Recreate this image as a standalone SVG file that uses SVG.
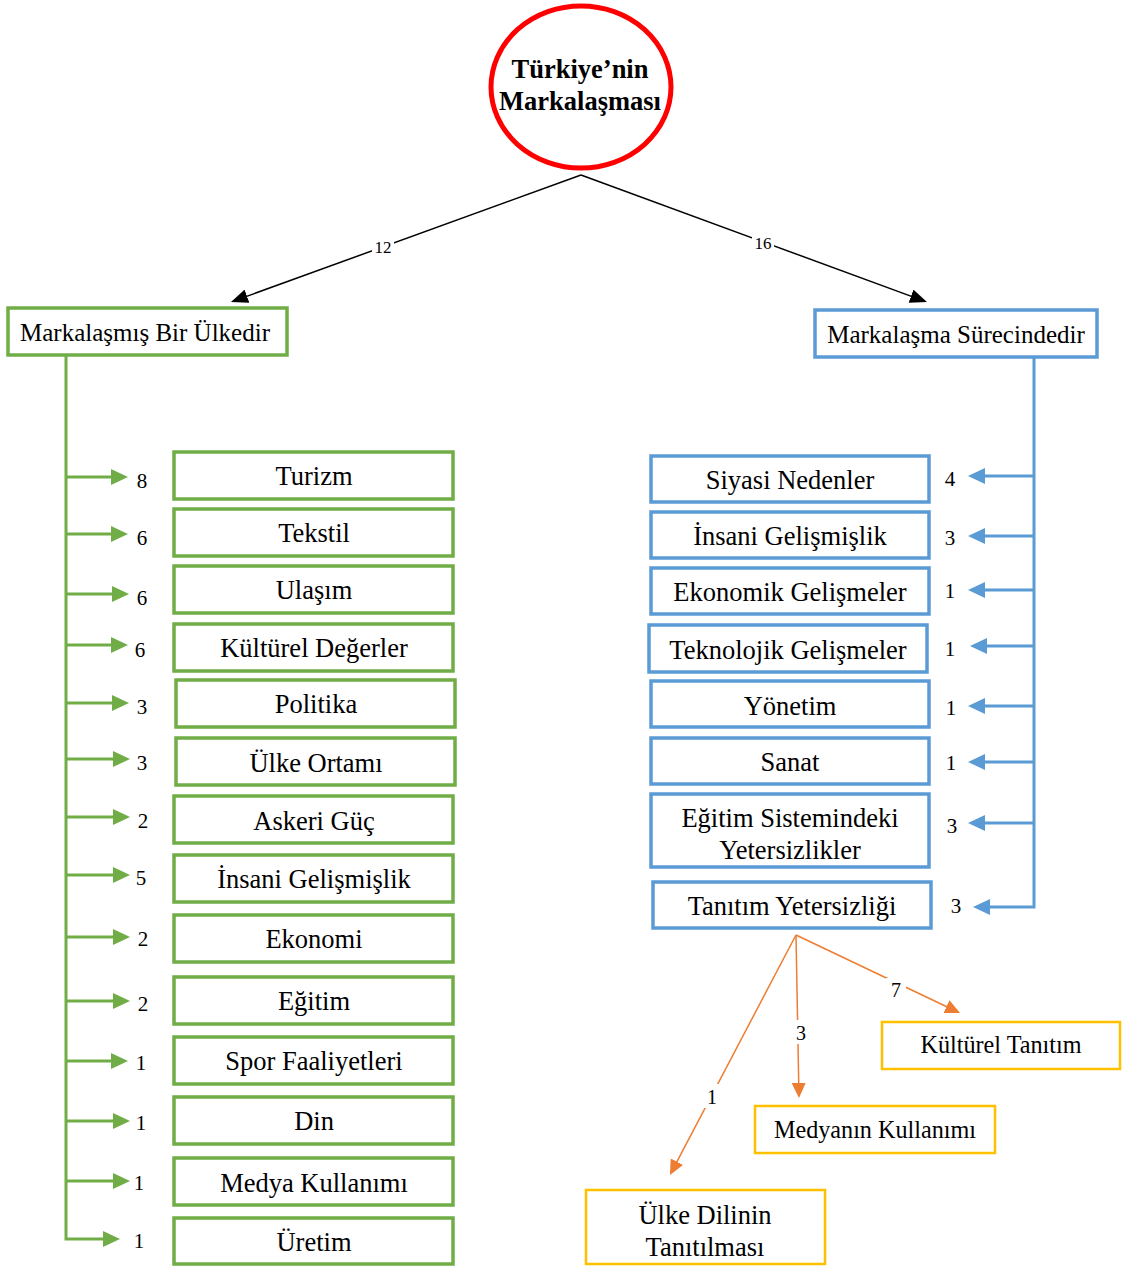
<svg xmlns="http://www.w3.org/2000/svg" width="1122" height="1266" viewBox="0 0 1122 1266">
<style>
text{font-family:"Liberation Serif","Times New Roman",serif;fill:#000}
.t{font-size:26.5px;text-anchor:middle}
.p{font-size:25px;text-anchor:middle}
.to{font-size:24.2px;text-anchor:middle}
.n{font-size:21px;text-anchor:middle}
.m{font-size:20px;text-anchor:middle}
.e{font-size:17px;text-anchor:middle}
.g{fill:#fff;stroke:#70AD47;stroke-width:3.5}
.b{fill:#fff;stroke:#5B9BD5;stroke-width:3.5}
.o{fill:#fff;stroke:#FFC000;stroke-width:2.5}
.cg{fill:none;stroke:#70AD47;stroke-width:3}
.cb{fill:none;stroke:#5B9BD5;stroke-width:3}
.ck{fill:none;stroke:#000;stroke-width:1.5}
.co{fill:none;stroke:#ED7D31;stroke-width:1.5}
</style>
<defs>
<marker id="ag" markerUnits="userSpaceOnUse" markerWidth="17" markerHeight="16" refX="7" refY="8" orient="auto"><path d="M0,0 L17,8 L0,16 z" fill="#70AD47"/></marker>
<marker id="ab" markerUnits="userSpaceOnUse" markerWidth="17" markerHeight="16" refX="7" refY="8" orient="auto"><path d="M0,0 L17,8 L0,16 z" fill="#5B9BD5"/></marker>
<marker id="ak" markerUnits="userSpaceOnUse" markerWidth="17" markerHeight="14" refX="7" refY="7" orient="auto"><path d="M0,0 L17,7 L0,14 z" fill="#000"/></marker>
<marker id="ao" markerUnits="userSpaceOnUse" markerWidth="15" markerHeight="14" refX="5" refY="7" orient="auto"><path d="M0,0 L15,7 L0,14 z" fill="#ED7D31"/></marker>
</defs>
<rect width="1122" height="1266" fill="#fff"/>

<g id="connectors">
<path class="ck" d="M581,175 L240.4,298.6" marker-end="url(#ak)"/>
<path class="ck" d="M581,175 L917.6,298.6" marker-end="url(#ak)"/>
<rect x="372" y="238" width="22" height="18" fill="#fff"/>
<text class="e" x="383" y="253">12</text>
<rect x="752" y="234" width="22" height="18" fill="#fff"/>
<text class="e" x="763" y="249">16</text>

<path class="cg" d="M66,355 V1239 H110" marker-end="url(#ag)"/>
<path class="cg" d="M66,477 H118" marker-end="url(#ag)"/>
<path class="cg" d="M66,534 H118" marker-end="url(#ag)"/>
<path class="cg" d="M66,594 H119" marker-end="url(#ag)"/>
<path class="cg" d="M66,645 H118" marker-end="url(#ag)"/>
<path class="cg" d="M66,703 H119" marker-end="url(#ag)"/>
<path class="cg" d="M66,759 H120" marker-end="url(#ag)"/>
<path class="cg" d="M66,817 H120" marker-end="url(#ag)"/>
<path class="cg" d="M66,875 H120" marker-end="url(#ag)"/>
<path class="cg" d="M66,937 H120" marker-end="url(#ag)"/>
<path class="cg" d="M66,1001 H120" marker-end="url(#ag)"/>
<path class="cg" d="M66,1061 H118" marker-end="url(#ag)"/>
<path class="cg" d="M66,1121 H120" marker-end="url(#ag)"/>
<path class="cg" d="M66,1181 H120" marker-end="url(#ag)"/>
<text class="n" x="142" y="488">8</text>
<text class="n" x="142" y="545">6</text>
<text class="n" x="142" y="605">6</text>
<text class="n" x="140" y="657">6</text>
<text class="n" x="142" y="714">3</text>
<text class="n" x="142" y="770">3</text>
<text class="n" x="143" y="828">2</text>
<text class="n" x="141" y="885">5</text>
<text class="n" x="143" y="946">2</text>
<text class="n" x="143" y="1011">2</text>
<text class="n" x="141" y="1070">1</text>
<text class="n" x="141" y="1130">1</text>
<text class="n" x="139" y="1190">1</text>
<text class="n" x="139" y="1248">1</text>

<path class="cb" d="M1034,357 V907 H983" marker-end="url(#ab)"/>
<path class="cb" d="M1034,476 H978" marker-end="url(#ab)"/>
<path class="cb" d="M1034,536 H978" marker-end="url(#ab)"/>
<path class="cb" d="M1034,590 H978" marker-end="url(#ab)"/>
<path class="cb" d="M1034,646 H980" marker-end="url(#ab)"/>
<path class="cb" d="M1034,706 H978" marker-end="url(#ab)"/>
<path class="cb" d="M1034,762 H978" marker-end="url(#ab)"/>
<path class="cb" d="M1034,823 H978" marker-end="url(#ab)"/>
<text class="n" x="950" y="486">4</text>
<text class="n" x="950" y="545">3</text>
<text class="n" x="950" y="598">1</text>
<text class="n" x="950" y="656">1</text>
<text class="n" x="951" y="715">1</text>
<text class="n" x="951" y="770">1</text>
<text class="n" x="952" y="833">3</text>
<text class="n" x="956" y="913">3</text>

<path class="co" d="M796,935 L951,1008.7" marker-end="url(#ao)"/>
<path class="co" d="M796,935 L798.8,1088" marker-end="url(#ao)"/>
<path class="co" d="M796,935 L674.6,1166.1" marker-end="url(#ao)"/>
<rect x="886" y="978" width="20" height="22" fill="#fff"/>
<text class="m" x="896" y="997">7</text>
<rect x="792" y="1020" width="18" height="24" fill="#fff"/>
<text class="m" x="801" y="1040">3</text>
<rect x="703" y="1084" width="18" height="24" fill="#fff"/>
<text class="m" x="712" y="1104">1</text>
</g>

<g id="root">
<ellipse cx="581" cy="87" rx="90" ry="81" fill="#fff" stroke="#FF0000" stroke-width="5"/>
<text class="t" x="580" y="78" font-weight="bold">Türkiye’nin</text>
<text class="t" x="580" y="110" font-weight="bold">Markalaşması</text>
</g>

<g id="markalasmis"><rect class="g" x="8" y="308" width="279" height="47"/><text class="p" x="145" y="341">Markalaşmış Bir Ülkedir</text></g>
<g id="surecinde"><rect class="b" x="815" y="310" width="282" height="47"/><text class="p" x="956" y="343">Markalaşma Sürecindedir</text></g>

<g id="turizm"><rect class="g" x="174" y="452" width="279" height="47"/><text class="t" x="314" y="485">Turizm</text></g>
<g id="tekstil"><rect class="g" x="174" y="509" width="279" height="47"/><text class="t" x="314" y="542">Tekstil</text></g>
<g id="ulasim"><rect class="g" x="174" y="566" width="279" height="47"/><text class="t" x="314" y="599">Ulaşım</text></g>
<g id="kulturel-degerler"><rect class="g" x="174" y="624" width="279" height="47"/><text class="t" x="314" y="657">Kültürel Değerler</text></g>
<g id="politika"><rect class="g" x="176" y="680" width="279" height="47"/><text class="t" x="316" y="713">Politika</text></g>
<g id="ulke-ortami"><rect class="g" x="176" y="738" width="279" height="47"/><text class="t" x="316" y="772">Ülke Ortamı</text></g>
<g id="askeri-guc"><rect class="g" x="174" y="796" width="279" height="47"/><text class="t" x="314" y="830">Askeri Güç</text></g>
<g id="insani-l"><rect class="g" x="174" y="855" width="279" height="47"/><text class="t" x="314" y="888">İnsani Gelişmişlik</text></g>
<g id="ekonomi"><rect class="g" x="174" y="915" width="279" height="47"/><text class="t" x="314" y="948">Ekonomi</text></g>
<g id="egitim"><rect class="g" x="174" y="977" width="279" height="47"/><text class="t" x="314" y="1010">Eğitim</text></g>
<g id="spor"><rect class="g" x="174" y="1037" width="279" height="47"/><text class="t" x="314" y="1070">Spor Faaliyetleri</text></g>
<g id="din"><rect class="g" x="174" y="1097" width="279" height="47"/><text class="t" x="314" y="1130">Din</text></g>
<g id="medya"><rect class="g" x="174" y="1158" width="279" height="47"/><text class="t" x="314" y="1192">Medya Kullanımı</text></g>
<g id="uretim"><rect class="g" x="174" y="1218" width="279" height="46"/><text class="t" x="314" y="1251">Üretim</text></g>

<g id="siyasi"><rect class="b" x="651" y="456" width="278" height="46"/><text class="t" x="790" y="489">Siyasi Nedenler</text></g>
<g id="insani-r"><rect class="b" x="651" y="512" width="278" height="46"/><text class="t" x="790" y="545">İnsani Gelişmişlik</text></g>
<g id="ekonomik"><rect class="b" x="651" y="568" width="278" height="46"/><text class="t" x="790" y="601">Ekonomik Gelişmeler</text></g>
<g id="teknolojik"><rect class="b" x="649" y="625" width="278" height="47"/><text class="t" x="788" y="659">Teknolojik Gelişmeler</text></g>
<g id="yonetim"><rect class="b" x="651" y="681" width="278" height="46"/><text class="t" x="790" y="715">Yönetim</text></g>
<g id="sanat"><rect class="b" x="651" y="738" width="278" height="46"/><text class="t" x="790" y="771">Sanat</text></g>
<g id="egitim-sistemi"><rect class="b" x="651" y="794" width="278" height="73"/><text class="t" x="790" y="827">Eğitim Sistemindeki</text><text class="t" x="790" y="859">Yetersizlikler</text></g>
<g id="tanitim-yetersizligi"><rect class="b" x="653" y="882" width="278" height="46"/><text class="t" x="792" y="915">Tanıtım Yetersizliği</text></g>

<g id="kulturel-tanitim"><rect class="o" x="882" y="1022" width="238" height="47"/><text class="to" x="1001" y="1053">Kültürel Tanıtım</text></g>
<g id="medyanin"><rect class="o" x="755" y="1106" width="240" height="47"/><text class="to" x="875" y="1138">Medyanın Kullanımı</text></g>
<g id="ulke-dilinin"><rect class="o" x="586" y="1190" width="239" height="74"/><text class="t" x="705" y="1224">Ülke Dilinin</text><text class="t" x="705" y="1256">Tanıtılması</text></g>
</svg>
